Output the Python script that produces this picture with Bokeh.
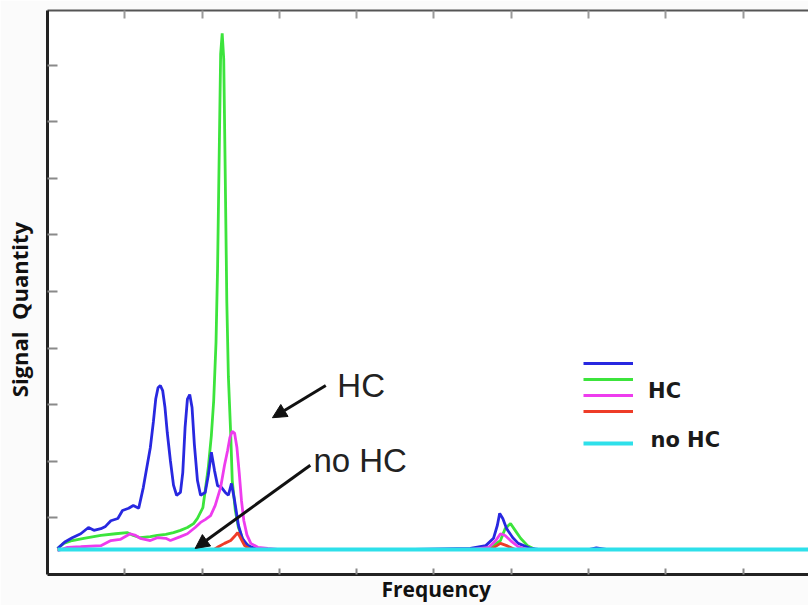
from bokeh.plotting import figure
from bokeh.models import (Range1d, LinearAxis, FixedTicker, Label, Arrow, NormalHead,
                          Legend, LegendItem)
from bokeh.embed import file_html
from bokeh.resources import INLINE
from bokeh.core.properties import value

# ---------------- data (frequency in arbitrary units, signal in arbitrary units) ----------------
blue_x = [0.13, 0.23, 0.32, 0.43, 0.53, 0.60, 0.69, 0.75, 0.82, 0.91, 0.97, 1.05, 1.11, 1.18,
          1.24, 1.29, 1.33, 1.37, 1.40, 1.43, 1.46, 1.49, 1.52, 1.55, 1.59, 1.63, 1.67, 1.72,
          1.75, 1.78, 1.81, 1.84, 1.87, 1.90, 1.94, 1.98, 2.04, 2.08, 2.12, 2.16, 2.20, 2.25,
          2.30, 2.34, 2.38, 2.42, 2.47, 2.52, 2.59, 2.69, 2.82, 4.57, 5.47, 5.67, 5.77, 5.82,
          5.85, 5.89, 5.94, 6.02, 6.09, 6.25, 6.38, 7.00, 7.10, 7.25, 9.85]
blue_y = [0.46, 0.58, 0.65, 0.72, 0.83, 0.78, 0.81, 0.85, 0.95, 0.99, 1.13, 1.17, 1.22, 1.17,
          1.54, 1.93, 2.24, 2.70, 3.10, 3.30, 3.34, 3.25, 2.95, 2.50, 2.01, 1.58, 1.40, 1.45,
          1.80, 2.60, 3.10, 3.18, 2.95, 2.30, 1.66, 1.40, 1.45, 1.75, 2.16, 1.84, 1.57, 1.54,
          1.45, 1.40, 1.61, 1.31, 0.87, 0.64, 0.51, 0.46, 0.44, 0.44, 0.46, 0.51, 0.64, 0.87,
          1.08, 0.99, 0.81, 0.65, 0.55, 0.46, 0.44, 0.44, 0.47, 0.44, 0.44]

green_x = [0.13, 0.21, 0.32, 0.47, 0.69, 0.88, 1.03, 1.11, 1.20, 1.33, 1.42, 1.53, 1.63, 1.72,
           1.81, 1.89, 1.94, 2.01, 2.04, 2.08, 2.12, 2.15, 2.18, 2.20, 2.22, 2.24, 2.26, 2.28,
           2.30, 2.32, 2.34, 2.37, 2.39, 2.43, 2.47, 2.54, 2.63, 2.76, 5.47, 5.73, 5.86, 5.92,
           5.99, 6.05, 6.12, 6.21, 6.31, 9.85]
green_y = [0.46, 0.55, 0.60, 0.64, 0.69, 0.72, 0.74, 0.69, 0.65, 0.67, 0.69, 0.71, 0.74, 0.78,
           0.83, 0.90, 0.99, 1.18, 1.48, 1.89, 2.46, 3.07, 4.10, 5.40, 7.30, 9.20, 9.56, 9.10,
           7.00, 4.80, 3.50, 2.49, 1.66, 1.13, 0.83, 0.58, 0.48, 0.44, 0.44, 0.48, 0.60, 0.81,
           0.90, 0.78, 0.64, 0.51, 0.44, 0.44]

magenta_x = [0.13, 0.26, 0.43, 0.69, 0.82, 0.94, 1.07, 1.14, 1.20, 1.33, 1.42, 1.53, 1.59, 1.72,
             1.81, 1.91, 1.98, 2.04, 2.11, 2.17, 2.24, 2.29, 2.33, 2.36, 2.39, 2.42, 2.45, 2.48,
             2.51, 2.54, 2.58, 2.63, 2.72, 2.85, 3.01, 5.47, 5.71, 5.80, 5.86, 5.92, 5.99, 6.09,
             6.22, 9.85]
magenta_y = [0.42, 0.48, 0.49, 0.51, 0.60, 0.62, 0.72, 0.69, 0.64, 0.60, 0.65, 0.64, 0.60, 0.67,
             0.72, 0.83, 0.92, 0.97, 1.04, 1.22, 1.54, 1.93, 2.19, 2.42, 2.53, 2.50, 2.25, 1.80,
             1.30, 0.95, 0.70, 0.55, 0.48, 0.46, 0.44, 0.44, 0.48, 0.60, 0.72, 0.69, 0.60, 0.49,
             0.44, 0.44]

red_x = [0.13, 2.15, 2.21, 2.29, 2.37, 2.43, 2.46, 2.50, 2.55, 2.63, 5.73, 5.86, 5.94, 6.05, 9.85]
red_y = [0.44, 0.44, 0.49, 0.55, 0.60, 0.69, 0.74, 0.64, 0.51, 0.44, 0.44, 0.55, 0.51, 0.44, 0.44]

cyan_x = [0.13, 9.85]
cyan_y = [0.44, 0.44]

y_ticks = [1, 2, 3, 4, 5, 6, 7, 8, 9]
x_ticks = [1, 2, 3, 4, 5, 6, 7, 8, 9]

BLUE = "#2828e0"
GREEN = "#3ce43c"
MAGENTA = "#ee3cee"
RED = "#ee3c28"
CYAN = "#2ee0ea"

# ---------------- figure ----------------
p = figure(width=808, height=605, output_backend="svg", toolbar_location=None,
           x_range=Range1d(0, 9.845), y_range=Range1d(0, 9.965),
           x_axis_location=None, y_axis_location=None,
           min_border_left=47, min_border_right=0, min_border_top=10, min_border_bottom=31)
p.grid.visible = False
p.outline_line_color = None
p.background_fill_color = "white"
p.border_fill_color = "#fbfbfb"

def style_axis(ax, ticks, tick_in, width, color, tick_color):
    ax.ticker = FixedTicker(ticks=ticks)
    ax.major_label_overrides = {t: "" for t in ticks}
    ax.major_tick_in = tick_in
    ax.major_tick_out = 0
    ax.minor_tick_in = 0
    ax.minor_tick_out = 0
    ax.major_label_text_font_size = "0px"
    ax.major_label_standoff = 0
    ax.axis_line_width = width
    ax.axis_line_color = color
    ax.major_tick_line_color = tick_color
    ax.major_tick_line_width = 2

left = LinearAxis()
style_axis(left, y_ticks, 10, 3, "#222222", "#8a8a8a")
left.axis_label = "Signal\u00a0 Quantity" + "\u00a0" * 6
left.axis_label_text_font = "Open Sans"
left.axis_label_text_font_style = "bold"
left.axis_label_text_font_size = "22px"
left.axis_label_text_color = "#111111"
left.axis_label_standoff = 14
p.add_layout(left, "left")

bottom = LinearAxis()
style_axis(bottom, x_ticks, 6, 3, "#222222", "#8a8a8a")
bottom.axis_label = "\u00a0\u00a0\u00a0Frequency"
bottom.axis_label_text_font = "Open Sans"
bottom.axis_label_text_font_style = "bold"
bottom.axis_label_text_font_size = "21px"
bottom.axis_label_text_color = "#111111"
bottom.axis_label_standoff = 0
p.add_layout(bottom, "below")

top = LinearAxis()
style_axis(top, x_ticks, 8, 2, "#555555", "#9a9a9a")
p.add_layout(top, "above")

# ---------------- curves ----------------
rg = p.line(green_x, green_y, line_color=GREEN, line_width=2.8)
rb = p.line(blue_x, blue_y, line_color=BLUE, line_width=2.8)
rm = p.line(magenta_x, magenta_y, line_color=MAGENTA, line_width=2.8)
rr = p.line(red_x, red_y, line_color=RED, line_width=2.8)
rs = p.line(cyan_x, cyan_y, line_color=CYAN, line_width=3, line_alpha=0)
rc = p.line(cyan_x, cyan_y, line_color=CYAN, line_width=4)

# ---------------- legend ----------------
legend = Legend(items=[LegendItem(label=value("\u200b"), renderers=[r]) for r in (rb, rg, rm, rr, rs, rc)],
                location=(536, 123), orientation="vertical",
                glyph_width=50, glyph_height=16, label_height=16, label_width=0,
                label_standoff=0, spacing=0, padding=0, margin=0,
                label_text_font_size="8px",
                border_line_alpha=0, background_fill_alpha=0)
p.add_layout(legend, "center")

p.add_layout(Label(x=7.77, y=3.25, text="HC", text_font="DejaVu Sans",
                   text_font_style="bold", text_font_size="21px", text_baseline="middle",
                   text_color="#1a1a1a"))
p.add_layout(Label(x=7.80, y=2.38, text="no HC", text_font="DejaVu Sans",
                   text_font_style="bold", text_font_size="21px", text_baseline="middle",
                   text_color="#1a1a1a"))

# ---------------- annotations ----------------
p.add_layout(Label(x=3.75, y=3.34, text="HC", text_font="Liberation Sans",
                   text_font_size="33px", text_baseline="alphabetic", text_color="#222222"))
p.add_layout(Label(x=3.44, y=2.01, text="no HC", text_font="Liberation Sans",
                   text_font_size="33px", text_baseline="alphabetic", text_color="#222222"))
p.add_layout(Arrow(x_start=3.60, y_start=3.34, x_end=2.91, y_end=2.77,
                   line_width=3, line_color="#111111",
                   end=NormalHead(size=14, fill_color="#111111", line_color="#111111")))
p.add_layout(Arrow(x_start=3.40, y_start=1.93, x_end=1.91, y_end=0.46,
                   line_width=3, line_color="#111111",
                   end=NormalHead(size=14, fill_color="#111111", line_color="#111111")))

open("out.html", "w").write(file_html(p, INLINE))
